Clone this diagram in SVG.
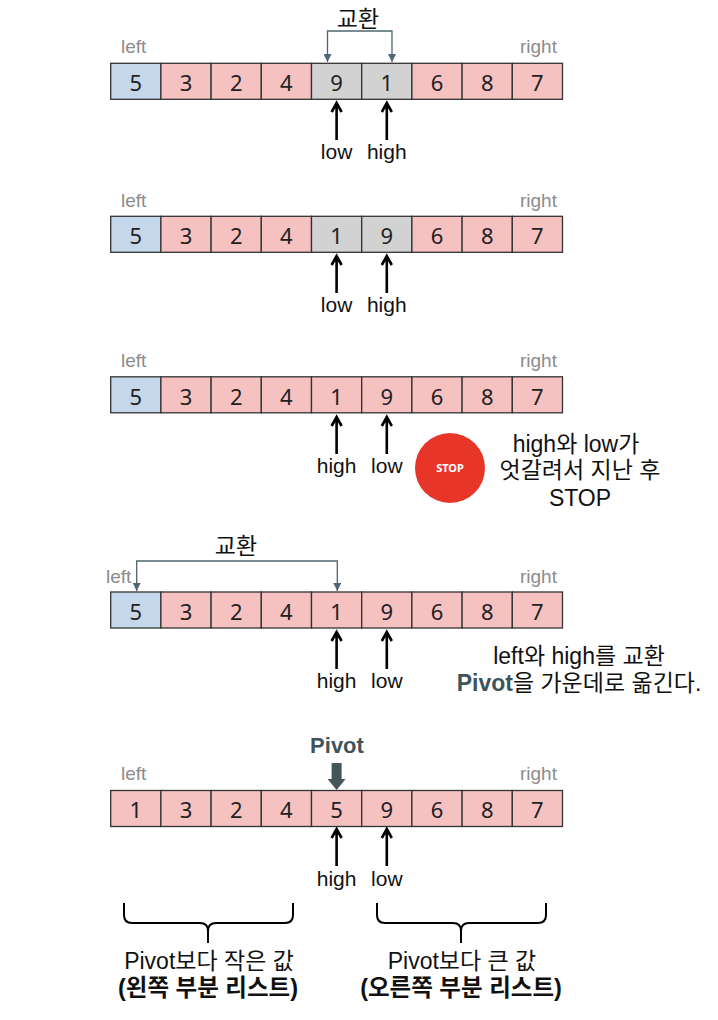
<svg xmlns="http://www.w3.org/2000/svg" width="718" height="1020" viewBox="0 0 718 1020">
<style>
.c{stroke:#333;stroke-width:1.3}
.p{fill:#f5c1c1}
.b{fill:#c5d8eb}
.g{fill:#d2d2d2}
.n{font-family:"Noto Sans","Noto Sans CJK KR",sans-serif;font-size:22px;fill:#222;text-anchor:middle}
.lr{font-family:"Liberation Sans","Noto Sans CJK KR",sans-serif;font-size:19px;fill:#8c8c8c}
.t{font-family:"Liberation Sans","Noto Sans CJK KR",sans-serif;font-size:23px;fill:#111;text-anchor:middle}
.tx{font-family:"Noto Sans CJK KR",sans-serif;font-size:23px;fill:#111;text-anchor:middle}
.tl{font-family:"Liberation Sans","Noto Sans CJK KR",sans-serif;font-size:21px;fill:#111;text-anchor:middle}
.tb{font-family:"Liberation Sans","Noto Sans CJK KR",sans-serif;font-size:23.5px;fill:#111;text-anchor:middle;font-weight:bold}
.pv{fill:#3e545b;font-weight:bold}
.up{fill:none;stroke:#000;stroke-width:2.6}
.sw{fill:none;stroke:#4f6670;stroke-width:1.3}
.br{fill:none;stroke:#000;stroke-width:2}
</style>
<defs>
<marker id="ah" viewBox="0 0 10 10" refX="10" refY="5" markerWidth="9" markerHeight="8" orient="auto-start-reverse" markerUnits="userSpaceOnUse">
<path d="M0,0 L10,5 L0,10 Z" fill="#4f6670"/>
</marker>
</defs>

<!-- Row 1 -->
<g id="row1">
<text class="lr" x="121" y="53">left</text>
<text class="lr" x="520" y="53">right</text>
<rect class="c b" x="110.7" y="63.3" width="50.2" height="36"/>
<rect class="c p" x="160.9" y="63.3" width="50.2" height="36"/>
<rect class="c p" x="211.1" y="63.3" width="50.2" height="36"/>
<rect class="c p" x="261.3" y="63.3" width="50.2" height="36"/>
<rect class="c g" x="311.5" y="63.3" width="50.2" height="36"/>
<rect class="c g" x="361.7" y="63.3" width="50.2" height="36"/>
<rect class="c p" x="411.9" y="63.3" width="50.2" height="36"/>
<rect class="c p" x="462.1" y="63.3" width="50.2" height="36"/>
<rect class="c p" x="512.3" y="63.3" width="50.2" height="36"/>
<text class="n" x="135.8" y="91">5</text><text class="n" x="186" y="91">3</text><text class="n" x="236.2" y="91">2</text><text class="n" x="286.4" y="91">4</text><text class="n" x="336.6" y="91">9</text><text class="n" x="386.8" y="91">1</text><text class="n" x="437" y="91">6</text><text class="n" x="487.2" y="91">8</text><text class="n" x="537.4" y="91">7</text>
<text class="tx" x="358" y="27">교환</text>
<text class="tl" x="336.6" y="159">low</text>
<text class="tl" x="386.8" y="159">high</text>
</g>

<!-- Row 2 -->
<g id="row2">
<text class="lr" x="121" y="207">left</text>
<text class="lr" x="520" y="207">right</text>
<rect class="c b" x="110.7" y="216.3" width="50.2" height="36"/>
<rect class="c p" x="160.9" y="216.3" width="50.2" height="36"/>
<rect class="c p" x="211.1" y="216.3" width="50.2" height="36"/>
<rect class="c p" x="261.3" y="216.3" width="50.2" height="36"/>
<rect class="c g" x="311.5" y="216.3" width="50.2" height="36"/>
<rect class="c g" x="361.7" y="216.3" width="50.2" height="36"/>
<rect class="c p" x="411.9" y="216.3" width="50.2" height="36"/>
<rect class="c p" x="462.1" y="216.3" width="50.2" height="36"/>
<rect class="c p" x="512.3" y="216.3" width="50.2" height="36"/>
<text class="n" x="135.8" y="244">5</text><text class="n" x="186" y="244">3</text><text class="n" x="236.2" y="244">2</text><text class="n" x="286.4" y="244">4</text><text class="n" x="336.6" y="244">1</text><text class="n" x="386.8" y="244">9</text><text class="n" x="437" y="244">6</text><text class="n" x="487.2" y="244">8</text><text class="n" x="537.4" y="244">7</text>
<text class="tl" x="336.6" y="312">low</text>
<text class="tl" x="386.8" y="312">high</text>
</g>

<!-- Row 3 -->
<g id="row3">
<text class="lr" x="121" y="367">left</text>
<text class="lr" x="520" y="367">right</text>
<rect class="c b" x="110.7" y="376.8" width="50.2" height="36"/>
<rect class="c p" x="160.9" y="376.8" width="50.2" height="36"/>
<rect class="c p" x="211.1" y="376.8" width="50.2" height="36"/>
<rect class="c p" x="261.3" y="376.8" width="50.2" height="36"/>
<rect class="c p" x="311.5" y="376.8" width="50.2" height="36"/>
<rect class="c p" x="361.7" y="376.8" width="50.2" height="36"/>
<rect class="c p" x="411.9" y="376.8" width="50.2" height="36"/>
<rect class="c p" x="462.1" y="376.8" width="50.2" height="36"/>
<rect class="c p" x="512.3" y="376.8" width="50.2" height="36"/>
<text class="n" x="135.8" y="405">5</text><text class="n" x="186" y="405">3</text><text class="n" x="236.2" y="405">2</text><text class="n" x="286.4" y="405">4</text><text class="n" x="336.6" y="405">1</text><text class="n" x="386.8" y="405">9</text><text class="n" x="437" y="405">6</text><text class="n" x="487.2" y="405">8</text><text class="n" x="537.4" y="405">7</text>
<text class="tl" x="336.6" y="473">high</text>
<text class="tl" x="386.8" y="473">low</text>
</g>

<g id="stop">
<circle cx="450" cy="468" r="35" fill="#e8352a"/>
<text x="450" y="472" font-family="'Noto Sans',sans-serif" font-size="11" font-weight="bold" fill="#fff" text-anchor="middle">STOP</text>
</g>
<g id="note1">
<text class="t" x="576" y="452">high와 low가</text>
<text class="t" x="580" y="478">엇갈려서 지난 후</text>
<text class="t" x="580" y="506">STOP</text>
</g>

<!-- Row 4 -->
<g id="row4">
<text class="lr" x="106" y="583">left</text>
<text class="lr" x="520" y="583">right</text>
<rect class="c b" x="110.7" y="592" width="50.2" height="36"/>
<rect class="c p" x="160.9" y="592" width="50.2" height="36"/>
<rect class="c p" x="211.1" y="592" width="50.2" height="36"/>
<rect class="c p" x="261.3" y="592" width="50.2" height="36"/>
<rect class="c p" x="311.5" y="592" width="50.2" height="36"/>
<rect class="c p" x="361.7" y="592" width="50.2" height="36"/>
<rect class="c p" x="411.9" y="592" width="50.2" height="36"/>
<rect class="c p" x="462.1" y="592" width="50.2" height="36"/>
<rect class="c p" x="512.3" y="592" width="50.2" height="36"/>
<text class="n" x="135.8" y="620">5</text><text class="n" x="186" y="620">3</text><text class="n" x="236.2" y="620">2</text><text class="n" x="286.4" y="620">4</text><text class="n" x="336.6" y="620">1</text><text class="n" x="386.8" y="620">9</text><text class="n" x="437" y="620">6</text><text class="n" x="487.2" y="620">8</text><text class="n" x="537.4" y="620">7</text>
<text class="tx" x="236" y="554">교환</text>
<text class="tl" x="336.6" y="688">high</text>
<text class="tl" x="386.8" y="688">low</text>
</g>
<g id="note2">
<text class="t" x="579" y="664">left와 high를 교환</text>
<text class="t" x="579" y="691"><tspan class="pv">Pivot</tspan>을 가운데로 옮긴다.</text>
</g>

<!-- Row 5 -->
<g id="row5">
<text class="tb" x="337" y="753" style="fill:#3e545b;font-size:22px">Pivot</text>
<text class="lr" x="121" y="780">left</text>
<text class="lr" x="520" y="780">right</text>
<rect class="c p" x="110.7" y="790.5" width="50.2" height="36"/>
<rect class="c p" x="160.9" y="790.5" width="50.2" height="36"/>
<rect class="c p" x="211.1" y="790.5" width="50.2" height="36"/>
<rect class="c p" x="261.3" y="790.5" width="50.2" height="36"/>
<rect class="c p" x="311.5" y="790.5" width="50.2" height="36"/>
<rect class="c p" x="361.7" y="790.5" width="50.2" height="36"/>
<rect class="c p" x="411.9" y="790.5" width="50.2" height="36"/>
<rect class="c p" x="462.1" y="790.5" width="50.2" height="36"/>
<rect class="c p" x="512.3" y="790.5" width="50.2" height="36"/>
<text class="n" x="135.8" y="818">1</text><text class="n" x="186" y="818">3</text><text class="n" x="236.2" y="818">2</text><text class="n" x="286.4" y="818">4</text><text class="n" x="336.6" y="818">5</text><text class="n" x="386.8" y="818">9</text><text class="n" x="437" y="818">6</text><text class="n" x="487.2" y="818">8</text><text class="n" x="537.4" y="818">7</text>
<text class="tl" x="336.6" y="886">high</text>
<text class="tl" x="386.8" y="886">low</text>
</g>
<g id="pivotArrow">
<rect x="331.6" y="763" width="10" height="17" fill="#44555b"/>
<path d="M327.6,779 L345.6,779 L336.6,790 Z" fill="#44555b"/>
</g>
<g id="leftPart">
<path class="br" d="M124,903 L124,915 Q124,923 132,923 L200,923 Q208,923 208,931 L208,943 M208,931 Q208,923 216,923 L285,923 Q293,923 293,915 L293,903"/>
<text class="t" x="209" y="969">Pivot보다 작은 값</text>
<text class="tb" x="208" y="996">(왼쪽 부분 리스트)</text>
</g>
<g id="rightPart">
<path class="br" d="M377,903 L377,915 Q377,923 385,923 L453,923 Q461,923 461,931 L461,943 M461,931 Q461,923 469,923 L538,923 Q546,923 546,915 L546,903"/>
<text class="t" x="462" y="969">Pivot보다 큰 값</text>
<text class="tb" x="461" y="996">(오른쪽 부분 리스트)</text>
</g>

<g id="connectors">
<path class="sw" d="M327.5,62 L327.5,31 L392,31 L392,62" marker-start="url(#ah)" marker-end="url(#ah)"/>
<path class="sw" d="M136.7,591 L136.7,561 L337.3,561 L337.3,591" marker-start="url(#ah)" marker-end="url(#ah)"/>
<path class="up" d="M336.6,104 L336.6,140 M331.6,112 L336.6,103 L341.6,112"/>
<path class="up" d="M386.8,104 L386.8,140 M381.8,112 L386.8,103 L391.8,112"/>
<path class="up" d="M336.6,257 L336.6,293 M331.6,265 L336.6,256 L341.6,265"/>
<path class="up" d="M386.8,257 L386.8,293 M381.8,265 L386.8,256 L391.8,265"/>
<path class="up" d="M336.6,418 L336.6,454 M331.6,426 L336.6,417 L341.6,426"/>
<path class="up" d="M386.8,418 L386.8,454 M381.8,426 L386.8,417 L391.8,426"/>
<path class="up" d="M336.6,633 L336.6,669 M331.6,641 L336.6,632 L341.6,641"/>
<path class="up" d="M386.8,633 L386.8,669 M381.8,641 L386.8,632 L391.8,641"/>
<path class="up" d="M336.6,830 L336.6,866 M331.6,838 L336.6,829 L341.6,838"/>
<path class="up" d="M386.8,830 L386.8,866 M381.8,838 L386.8,829 L391.8,838"/>
</g>
</svg>
